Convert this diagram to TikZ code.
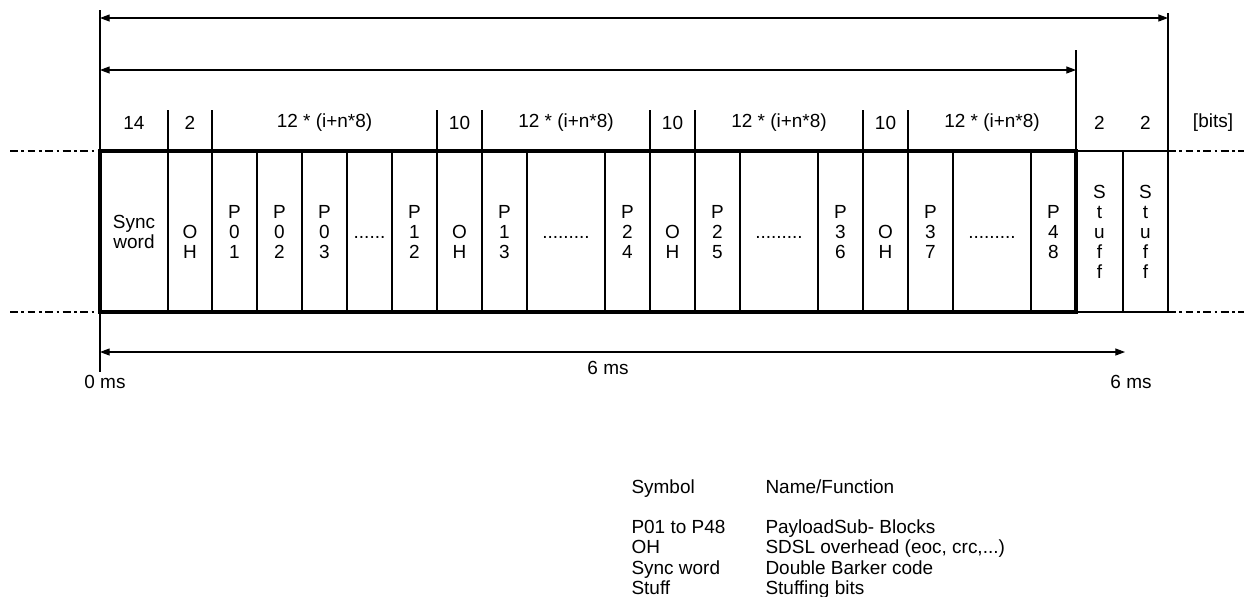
\documentclass[tikz,border=0pt]{standalone}
\usepackage{fontspec}
\setmainfont{Liberation Sans}
\usetikzlibrary{arrows.meta}

\begin{document}
\begin{tikzpicture}[x=0.02cm, y=-0.02cm,
  line width=0.6pt,
  lbl/.style = {font=\fontsize{10.8}{11.4}\selectfont, inner sep=0pt, align=center},
  leg/.style = {lbl, anchor=base west},
  frm/.style = {line width=2pt},
  dimarr/.style = {{Triangle[length=5.5pt,width=4pt]}-{Triangle[length=5.5pt,width=4pt]}},
  dashdot/.style = {dash pattern=on 4.5pt off 2pt on 1.5pt off 2pt}
]
\useasboundingbox (0,0) rectangle (1244,596);

% extension lines
\draw (100,10) -- (100,372);
\draw (1076,50) -- (1076,312);
\draw (1168,13) -- (1168,312);

% dimension arrows
\coordinate (top0) at (100,18);  \coordinate (top1) at (1168,18);
\coordinate (mid0) at (100,70);  \coordinate (mid1) at (1076,70);
\coordinate (bot0) at (100,352); \coordinate (bot1) at (1125,352);
\draw[dimarr] (top0) -- (top1);
\draw[dimarr] (mid0) -- (mid1);
\draw[dimarr] (bot0) -- (bot1);

% header separators
\foreach \x in {168,212,437,482,650,695,863,908}
  \draw (\x,110) -- (\x,151);

% cell dividers
\foreach \x in {168,212,257,302,347,392,437,482,527,605,650,695,740,818,863,908,953,1031}
  \draw (\x,151) -- (\x,312);

% stuffing cells
\draw (1076,151) -- (1168,151);
\draw (1076,312) -- (1168,312);
\draw (1123,151) -- (1123,312);

% frame
\draw[frm] (100,151) rectangle (1076,312);

% reference lines
\draw[dashdot] (10,151) -- (100,151);
\draw[dashdot] (10,312) -- (100,312);
\draw[dashdot] (1168,151) -- (1244,151);
\draw[dashdot] (1168,312) -- (1244,312);

% bit counts
\foreach \x/\t [count=\i] in {134/14, 190/2, 324.5/{12 * (i+n*8)}, 459.5/10,
    566/{12 * (i+n*8)}, 672.5/10, 779/{12 * (i+n*8)}, 885.5/10,
    992/{12 * (i+n*8)}, 1099.5/2, 1145.5/2, 1213/{[bits]}}
  \node[lbl] (hd\i) at (\x,123) {\t};

% cell contents
\node[lbl] (sync) at (134,232) {Sync\\word};
\foreach \x [count=\i] in {190,459.5,672.5,885.5}
  \node[lbl] (oh\i) at (\x,242) {O\\H};
\foreach \x/\a/\b [count=\i] in {234.5/0/1, 279.5/0/2, 324.5/0/3, 414.5/1/2,
    504.5/1/3, 627.5/2/4, 717.5/2/5, 840.5/3/6, 930.5/3/7, 1053.5/4/8}
  \node[lbl] (p\i) at (\x,232) {P\\\a\\\b};
\node[lbl] (dots1) at (369.5,237) {......};
\foreach \x [count=\i from 2] in {566,779,992}
  \node[lbl] (dots\i) at (\x,237) {.........};
\node[lbl] (stf1) at (1099.5,232) {S\\t\\u\\f\\f};
\node[lbl] (stf2) at (1145.5,232) {S\\t\\u\\f\\f};

% time labels
\node[lbl] (dur) at (608,368) {6 ms};
\node[lbl] (t0) at (105,382) {0 ms};
\node[lbl] (t6) at (1131,382) {6 ms};

% legend
\node[leg] (symh) at (631,493) {Symbol};
\node[leg] (funh) at (765,493) {Name/Function};
\foreach \s/\f/\y [count=\i] in {P01 to P48/PayloadSub- Blocks/533,
    OH/{SDSL overhead (eoc, crc,...)}/553,
    Sync word/Double Barker code/574,
    Stuff/Stuffing bits/594}
{
  \node[leg] (sym\i) at (631,\y) {\s};
  \node[leg] (fun\i) at (765,\y) {\f};
}
\end{tikzpicture}
\end{document}
